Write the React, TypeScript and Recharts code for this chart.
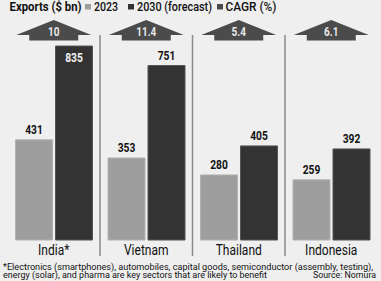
import { BarChart, Bar, XAxis, YAxis, LabelList } from "recharts";

const countries = ["India*", "Vietnam", "Thailand", "Indonesia"];
const exports2023 = [431, 353, 280, 259];
const exports2030 = [835, 751, 405, 392];
const cagr = ["10", "11.4", "5.4", "6.1"];

const FONT = "Roboto, 'DejaVu Sans', sans-serif";
const BG = "#efefef";
const LIGHT = "#9e9e9e";
const DARK = "#333333";
const ARROW = "#4b4b4b";

const data = countries.map((c, i) => ({
  country: c,
  y2023: exports2023[i],
  y2030: exports2030[i],
  cagr: cagr[i],
}));

// condensed-looking text: squeeze glyphs horizontally around x
function Narrow({ x, y, sx = 0.8, children, ...rest }: any) {
  return (
    <text transform={`translate(${x},${y}) scale(${sx},1)`} x={0} y={0} textAnchor="middle" fontFamily={FONT} {...rest}>
      {children}
    </text>
  );
}

// CAGR "house" arrow drawn at each category centre of the hidden top axis
function ArrowTick(props: any) {
  const { x, payload } = props;
  const row = data.find((d) => d.country === payload.value);
  const cx = x;
  const pts = [
    [cx - 37.5, 35],
    [cx, 20],
    [cx + 37.5, 35],
    [cx + 24.5, 35],
    [cx + 24.5, 40.5],
    [cx - 24.5, 40.5],
    [cx - 24.5, 35],
  ]
    .map((p) => p.join(","))
    .join(" ");
  return (
    <g>
      <polygon points={pts} fill={ARROW} />
      <Narrow x={cx} y={36} sx={0.8} fill="#e8e8e8" fontSize={12.5} fontWeight="bold">
        {row?.cagr}
      </Narrow>
    </g>
  );
}

// country name plus the grey divider on the left side of each panel
function CountryTick(props: any) {
  const { x, payload, index } = props;
  const half = payload.offset ?? 46.25;
  return (
    <g>
      {index > 0 && <line x1={x - half} x2={x - half} y1={35} y2={256} stroke="#8a8a8a" strokeWidth={1.5} />}
      <Narrow x={x} y={255} sx={0.86} fill="#111" fontSize={14}>
        {payload.value}
      </Narrow>
    </g>
  );
}

function ValueLabel(props: any) {
  const { x, y, width, value } = props;
  const inside = y < 52;
  return (
    <Narrow
      x={x + width / 2}
      y={inside ? y + 15.5 : y - 6}
      sx={0.76}
      fill={inside ? "#f2f2f2" : "#111"}
      fontSize={13.5}
      fontWeight="bold"
    >
      {value}
    </Narrow>
  );
}

export default function App() {
  return (
    <div style={{ position: "absolute", left: 0, top: 0, width: 381, height: 281, background: BG, overflow: "hidden" }}>
      <div style={{ position: "absolute", left: 0, top: 0 }}>
        <BarChart
          width={381}
          height={281}
          data={data}
          margin={{ top: 0, right: 3.5, bottom: 0, left: 7.5 }}
          barCategoryGap={8}
          barGap={3}
        >
          <XAxis xAxisId="top" orientation="top" dataKey="country" height={20} axisLine={false} tickLine={false} tick={<ArrowTick />} />
          <XAxis dataKey="country" height={41} axisLine={false} tickLine={false} tick={<CountryTick />} interval={0} />
          <YAxis hide domain={[0, 947]} />
          <Bar dataKey="y2023" fill={LIGHT} stroke="#b2b2b2" strokeWidth={1} isAnimationActive={false}>
            <LabelList dataKey="y2023" content={<ValueLabel />} />
          </Bar>
          <Bar dataKey="y2030" fill={DARK} stroke="#555" strokeWidth={1} isAnimationActive={false}>
            <LabelList dataKey="y2030" content={<ValueLabel />} />
          </Bar>
        </BarChart>
      </div>
      <svg width={381} height={281} style={{ position: "absolute", left: 0, top: 0, pointerEvents: "none" }} fontFamily={FONT} fill="#111">
        <text x={9.5} y={10.5} fontSize={12.5} fontWeight="bold" textLength={72} lengthAdjust="spacingAndGlyphs">Exports ($ bn)</text>
        <rect x={85} y={4} width={6} height={5.5} fill={LIGHT} />
        <text x={94} y={10.5} fontSize={12.5} fontWeight={500} textLength={24} lengthAdjust="spacingAndGlyphs">2023</text>
        <rect x={128} y={4} width={6} height={5.5} fill={DARK} />
        <text x={137} y={10.5} fontSize={12.5} fontWeight={500} textLength={75} lengthAdjust="spacingAndGlyphs">2030 (forecast)</text>
        <rect x={217} y={4} width={6} height={5.5} fill={ARROW} />
        <text x={225.5} y={10.5} fontSize={12.5} fontWeight={500} textLength={51} lengthAdjust="spacingAndGlyphs">CAGR (%)</text>

        <text x={3} y={269.5} fontSize={9} textLength={370} lengthAdjust="spacingAndGlyphs">
          *Electronics (smartphones), automobiles, capital goods, semiconductor (assembly, testing),
        </text>
        <text x={3} y={278} fontSize={9} textLength={264} lengthAdjust="spacingAndGlyphs">
          energy (solar), and pharma are key sectors that are likely to benefit
        </text>
        <text x={313} y={278} fontSize={9} textLength={63} lengthAdjust="spacingAndGlyphs">Source: Nomura</text>
      </svg>
    </div>
  );
}
